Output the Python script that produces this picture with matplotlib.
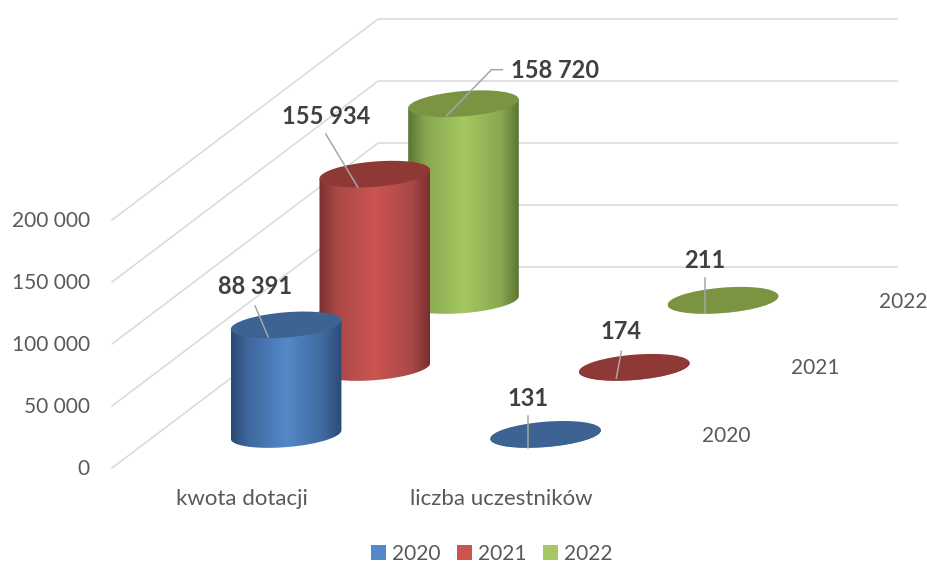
import numpy as np
import matplotlib
matplotlib.use('Agg')
import matplotlib.pyplot as plt
from matplotlib.colors import LinearSegmentedColormap
from matplotlib.patches import Ellipse, Patch, Polygon

categories = ['kwota dotacji', 'liczba uczestników']
series_names = ['2020', '2021', '2022']
values_2020 = [88391, 131]
values_2021 = [155934, 174]
values_2022 = [158720, 211]
y_ticks = [0, 50000, 100000, 150000, 200000]

# edge, mid, centre of the shading, then the flat top
blue = ['#2b4a75', '#3f689e', '#5588c9', '#3c6391']
red = ['#78302e', '#a94846', '#cc5552', '#8f3937']
green = ['#5c7631', '#87a84f', '#a5c862', '#7a9442']

# label offsets from the middle of each cylinder top: text, leader start, leader end
label_text = [[(-31, -38), (-31, -19), (-18, 12)],
              [(-49, -58), (-49, -40), (-17, 13)],
              [(92, -33), (39, -34), (-17, 12)]]
label_flat = [[(-18, -36), (-18, -18), (-18, 14)],
              [(-13, -36), (-13, -16), (-18, 11)],
              [(-18, -40), (-18, -22), (-18, 13)]]

PX_PER_UNIT = 62 / 50000
LEFT, FLOOR = 112, 468
CAT_W = 259.5
DEPTH_X, DEPTH_Y = 88.7, 67
RX, RY, TILT = 55.5, 12.6, 4.7


def project(cat, ser, value=0):
    x = LEFT + (cat + 0.5) * CAT_W + (ser + 0.5) * DEPTH_X
    y = FLOOR - value * PX_PER_UNIT - (ser + 0.5) * DEPTH_Y
    return x, y


def ellipse_points(cx, cy, n=121):
    t = np.linspace(0, 2 * np.pi, n)
    a = np.radians(TILT)
    x = RX * np.cos(t) * np.cos(a) + RY * np.sin(t) * np.sin(a)
    y = -RX * np.cos(t) * np.sin(a) + RY * np.sin(t) * np.cos(a)
    return cx + x, cy + y


def cylinder(ax, cat, ser, value, colors, zorder):
    x0, y0 = project(cat, ser)
    x1, y1 = project(cat, ser, value)
    bx, by = ellipse_points(x0, y0)
    tx, ty = ellipse_points(x1, y1)
    # lower arc of the base plus the sides, the top is painted over it
    pts = np.column_stack([np.r_[bx, tx], np.r_[by, ty]])
    left = bx.argmin()
    right = bx.argmax()
    order = np.arange(right, left + 1) if right < left else np.r_[np.arange(right, 121), np.arange(0, left + 1)]
    body = np.column_stack([bx[order], by[order]])
    body = np.vstack([body, [tx[left], ty[left]], [tx[right], ty[right]]])
    poly = Polygon(body, closed=True, facecolor='none', edgecolor='none', zorder=zorder)
    ax.add_patch(poly)
    cmap = LinearSegmentedColormap.from_list('c', [(0, colors[0]), (0.16, colors[1]), (0.5, colors[2]),
                                                   (0.84, colors[1]), (1, colors[0])])
    grad = np.linspace(0, 1, 256).reshape(1, -1)
    im = ax.imshow(grad, cmap=cmap, extent=(pts[:, 0].min(), pts[:, 0].max(), pts[:, 1].max(), pts[:, 1].min()),
                   aspect='auto', zorder=zorder)
    im.set_clip_path(poly)
    ax.add_patch(Ellipse((x1, y1), 2 * RX, 2 * RY, angle=-TILT, facecolor=colors[3], edgecolor='none',
                         zorder=zorder + 0.1))


fig = plt.figure(figsize=(9.28, 5.63), dpi=100)
ax = fig.add_axes([0, 0, 1, 1])
plt.rcParams['font.family'] = ['Lato', 'DejaVu Sans']

# walls
for tick in y_ticks:
    fx, fy = LEFT, FLOOR - tick * PX_PER_UNIT
    bx_, by_ = LEFT + 3 * DEPTH_X, fy - 3 * DEPTH_Y
    ax.plot([fx, bx_, LEFT + 3 * DEPTH_X + 2 * CAT_W], [fy, by_, by_], color='#d9d9d9', lw=1.1, zorder=1)
    ax.text(90, fy + 1, f'{tick:,}'.replace(',', ' '), ha='right', va='center', fontsize=15, color='#595959')

series = [values_2020, values_2021, values_2022]
palette = [blue, red, green]
for ser in [2, 1, 0]:
    for cat in [0, 1]:
        cylinder(ax, cat, ser, series[ser][cat], palette[ser], 3 + (2 - ser))

for ser in range(3):
    for cat, offsets in enumerate([label_text, label_flat]):
        v = series[ser][cat]
        x, y = project(cat, ser, v)
        txt, start, end = offsets[ser]
        if cat == 0 and ser == 2:
            xs = [x + start[0], x + start[0] - 11, x + end[0]]
            ys = [y + start[1], y + start[1], y + end[1]]
        else:
            xs = [x + start[0], x + end[0]]
            ys = [y + start[1], y + end[1]]
        ax.plot(xs, ys, color='#a6a6a6', lw=1.1, zorder=10)
        ax.text(x + txt[0], y + txt[1], f'{v:,}'.replace(',', ' '), ha='center', va='center', fontsize=17,
                fontweight='bold', color='#404040', zorder=11)

for cat, name in enumerate(categories):
    ax.text(project(cat, 0)[0] - 44.5, 499, name, ha='center', va='center', fontsize=16, color='#595959')
for ser, name in enumerate(series_names):
    ax.text(project(1, ser)[0] + 180.5, project(1, ser)[1] + 1, name, ha='center', va='center', fontsize=15,
            color='#595959')

handles = [Patch(facecolor=c[2], edgecolor='none', label=n) for c, n in zip(palette, series_names)]
ax.legend(handles=handles, ncol=3, loc='center', bbox_to_anchor=(492 / 928, 1 - 554 / 563), frameon=False,
          fontsize=15, labelcolor='#595959', handlelength=0.7, handleheight=0.7, handletextpad=0.3,
          columnspacing=0.8, borderpad=0, borderaxespad=0)

ax.set_xlim(0, 928)
ax.set_ylim(563, 0)
ax.axis('off')
fig.savefig('out.png', dpi=100)
